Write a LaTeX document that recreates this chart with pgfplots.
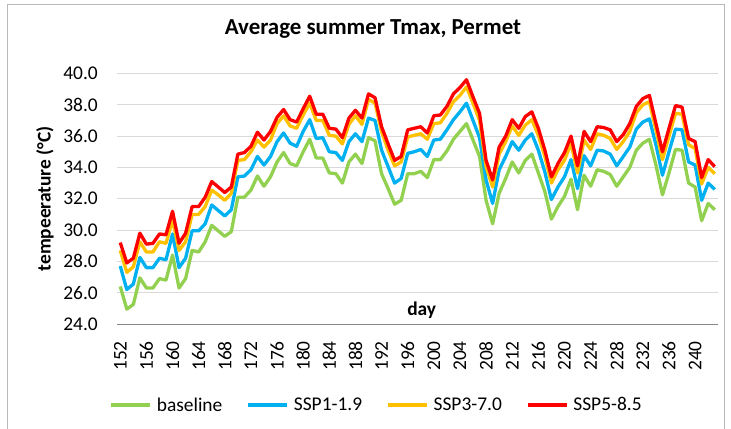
\documentclass[border=0pt]{standalone}
\usepackage{pgfplots}
\pgfplotsset{compat=1.18}
\usepackage{pgfplotstable}
\usepackage{fontspec}
\setmainfont{Carlito}
\definecolor{cbase}{HTML}{92D050}
\definecolor{cs1}{HTML}{00B0F0}
\definecolor{cs3}{HTML}{FFC000}
\definecolor{cs5}{HTML}{FF0000}
\definecolor{gridc}{HTML}{D9D9D9}
\definecolor{axc}{HTML}{868686}
\pgfplotstableread{
day base s1 s3 s5
152 26.4 27.7 28.7 29.2
153 24.95 26.2 27.3 27.9
154 25.25 26.55 27.65 28.2
155 26.95 28.25 29.25 29.8
156 26.3 27.6 28.6 29.1
157 26.3 27.6 28.6 29.15
158 26.9 28.2 29.25 29.75
159 26.8 28.1 29.15 29.7
160 28.4 29.75 30.65 31.2
161 26.3 27.6 28.7 29.15
162 26.9 28.2 29.25 29.8
163 28.7 29.95 31.0 31.5
164 28.6 29.95 31.0 31.5
165 29.25 30.4 31.5 32.1
166 30.3 31.6 32.55 33.1
167 29.95 31.25 32.25 32.75
168 29.6 30.9 31.9 32.4
169 29.9 31.3 32.35 32.75
170 32.1 33.4 34.45 34.85
171 32.1 33.45 34.5 34.95
172 32.55 33.85 35.0 35.35
173 33.45 34.7 35.75 36.25
174 32.8 34.15 35.3 35.75
175 33.4 34.7 35.75 36.3
176 34.35 35.65 36.8 37.2
177 34.95 36.2 37.3 37.7
178 34.25 35.55 36.65 37.05
179 34.1 35.35 36.5 36.9
180 35.0 36.3 37.35 37.75
181 35.8 37.05 38.1 38.55
182 34.6 35.85 37.0 37.4
183 34.6 35.9 37.0 37.4
184 33.65 35.0 36.05 36.5
185 33.6 34.95 36.0 36.45
186 33.0 34.45 35.5 35.9
187 34.35 35.65 36.75 37.15
188 34.85 36.15 37.3 37.65
189 34.25 35.65 36.75 37.15
190 35.9 37.15 38.35 38.7
191 35.7 37.0 38.1 38.45
192 33.6 35.1 36.3 36.6
193 32.65 34.05 35.1 35.5
194 31.65 33.0 34.1 34.45
195 31.9 33.3 34.35 34.7
196 33.6 34.9 35.95 36.4
197 33.6 35.0 36.05 36.5
198 33.75 35.15 36.15 36.6
199 33.35 34.7 35.8 36.2
200 34.5 35.75 36.8 37.3
201 34.5 35.8 36.85 37.35
202 35.05 36.4 37.45 37.9
203 35.8 37.05 38.2 38.7
204 36.3 37.55 38.6 39.1
205 36.8 38.1 39.15 39.6
206 35.75 37.0 38.1 38.5
207 34.7 35.9 37.0 37.45
208 31.9 33.2 34.05 34.45
209 30.4 31.7 32.75 33.2
210 32.35 33.85 34.85 35.3
211 33.3 34.7 35.65 36.0
212 34.35 35.65 36.65 37.05
213 33.65 35.1 36.05 36.5
214 34.45 35.75 36.7 37.25
215 34.85 36.15 37.05 37.55
216 33.65 35.1 36.05 36.5
217 32.45 33.7 34.7 35.1
218 30.7 31.95 33.0 33.4
219 31.5 32.75 33.85 34.25
220 32.15 33.4 34.45 34.95
221 33.25 34.5 35.55 36.0
222 31.3 32.65 33.65 34.1
223 33.5 34.75 35.75 36.3
224 32.8 34.1 35.15 35.65
225 33.85 35.1 36.15 36.6
226 33.75 35.05 36.05 36.55
227 33.55 34.85 35.85 36.4
228 32.8 34.1 35.15 35.65
229 33.4 34.7 35.65 36.1
230 34.0 35.3 36.3 36.8
231 35.1 36.45 37.5 37.9
232 35.55 36.9 38.0 38.4
233 35.8 37.1 38.2 38.6
234 34.15 35.45 36.4 36.8
235 32.25 33.5 34.5 35.0
236 33.65 35.0 36.0 36.5
237 35.15 36.45 37.45 37.95
238 35.1 36.4 37.4 37.85
239 33.0 34.35 35.45 35.85
240 32.75 34.15 35.2 35.65
241 30.6 31.9 32.95 33.35
242 31.7 33.0 34.0 34.5
243 31.3 32.6 33.6 34.05
}\datatable
\begin{document}
\begin{tikzpicture}
\useasboundingbox (0,0) rectangle (731bp,429bp);
\draw[gray!55, line width=0.8bp] (7bp,0) -- (7bp,425bp) -- (724bp,425bp) -- (724bp,0);
\begin{axis}[
  at={(117bp,105bp)}, anchor=south west,
  scale only axis, width=601bp, height=250.5bp,
  xmin=151.5, xmax=243.5, ymin=24, ymax=40,
  xtick={152,156,...,240}, ytick={24,26,...,40},
  axis line style={draw=none},
  axis x line*=bottom, axis y line*=left,
  x axis line style={draw=axc, line width=1bp},
  ymajorgrids, grid style={gridc, line width=1bp},
  major tick length=0pt,
  tick label style={font=\fontsize{19.5}{22}\selectfont, text=black},
  /pgf/number format/assume math mode=true,
  yticklabel style={/pgf/number format/fixed, /pgf/number format/fixed zerofill, /pgf/number format/precision=1, anchor=east, inner sep=0pt},
  yticklabel shift=19bp,
  xticklabel style={rotate=90, anchor=east, inner sep=0pt, /pgf/number format/1000 sep={}},
  xticklabel shift=17bp,
  title={Average summer Tmax, Permet},
  title style={font=\bfseries\fontsize{23}{26}\selectfont, at={(axis description cs:0.426,1.154)}, anchor=center},
  xlabel={day},
  xlabel style={font=\bfseries\fontsize{19.5}{22}\selectfont, at={(axis description cs:0.507,0.056)}, anchor=center},
  ylabel={tempeerature (°C)},
  ylabel style={font=\bfseries\fontsize{19.5}{22}\selectfont, at={(axis description cs:-0.12,0.5)}, anchor=center},
  legend columns=4,
  legend style={draw=none, fill=none, at={(axis description cs:0.4318,-0.3234)}, anchor=center,
    font=\fontsize{19.5}{22}\selectfont, inner sep=0pt,
    /tikz/every even column/.append style={column sep=22bp},
    /tikz/every odd column/.append style={column sep=3bp}},
  legend image code/.code={\draw[#1, line width=3.5bp] (0bp,0bp) -- (39bp,0bp);},
  every axis plot/.append style={line width=3.3bp, line join=round, mark=none},
]
\addplot[cbase] table[x=day, y=base] {\datatable};
\addlegendentry{baseline}
\addplot[cs1] table[x=day, y=s1] {\datatable};
\addlegendentry{SSP1-1.9}
\addplot[cs3] table[x=day, y=s3] {\datatable};
\addlegendentry{SSP3-7.0}
\addplot[cs5] table[x=day, y=s5] {\datatable};
\addlegendentry{SSP5-8.5}
\end{axis}
\end{tikzpicture}
\end{document}
